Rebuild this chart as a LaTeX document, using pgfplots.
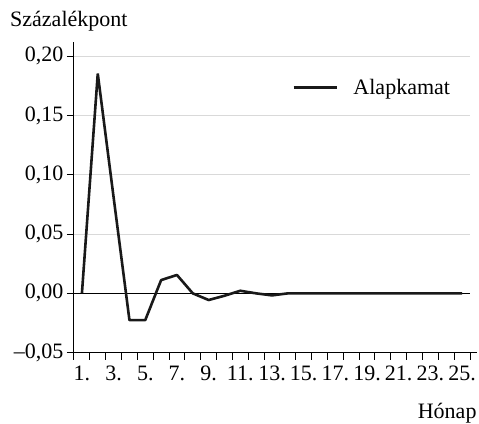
\documentclass[border=0pt]{standalone}
\usepackage{fontspec}
\setmainfont{Liberation Serif}
\usepackage{pgfplots}
\pgfplotsset{compat=1.18}
\definecolor{gridgray}{HTML}{D9D9D9}
\newcommand{\bigfont}{\fontsize{22bp}{26bp}\selectfont}
\begin{document}
\begin{tikzpicture}[font=\bigfont]
\path[use as bounding box] (-74bp,-71.3bp) rectangle (405bp,352.7bp);
\begin{axis}[
  at={(0,0)}, anchor=south west,
  scale only axis, width=396bp, height=311bp,
  xmin=0.5, xmax=25.5, ymin=-0.05, ymax=0.2121,
  axis lines=left,
  x axis line style={-, line width=1bp, shorten >=-7bp},
  y axis line style={-, line width=1bp},
  tick align=outside, major tick length=7bp,
  tick style={black, line width=1bp},
  xtick={0.5,1.5,...,25.5}, xticklabels={},
  extra x ticks={1,3,...,25},
  extra x tick labels={1.,3.,5.,7.,9.,11.,13.,15.,17.,19.,21.,23.,25.},
  extra x tick style={major tick length=0pt, tick label style={yshift=-10bp}},
  ytick={-0.05,0.05,0.10,0.15,0.20},
  yticklabels={{\textendash0,05},{0,05},{0,10},{0,15},{0,20}},
  extra y ticks={0},
  extra y tick labels={0{,}00},
  extra y tick style={grid style={black, line width=1bp}},
  ymajorgrids,
  grid style={gridgray, line width=1bp},
  tick label style={font=\bigfont},
  legend style={draw=none, fill=none, at={(0.5505,0.8534)}, anchor=west,
    inner sep=0pt, font=\bigfont},
  legend cell align=left,
  legend image code/.code={\draw[#1] (0bp,0bp) -- (43bp,0bp); \path[draw=none] (0bp,0bp) -- (58bp,0bp);},
]
\addplot[color=black!90, line width=2.6bp, line join=bevel] coordinates {
(1,0) (2,0.1852) (3,0.081) (4,-0.0225) (5,-0.0225) (6,0.0112) (7,0.0155)
(8,0.0) (9,-0.0056) (10,-0.002) (11,0.0022) (12,0.0) (13,-0.0017) (14,0)
(15,0) (16,0) (17,0) (18,0) (19,0) (20,0) (21,0) (22,0) (23,0) (24,0) (25,0)
};
\addlegendentry{Alapkamat}
\end{axis}
\node[anchor=base west, inner sep=0pt] at (-64bp,326bp) {Százalékpont};
\node[anchor=base east, inner sep=0pt] at (402.7bp,-65.3bp) {Hónap};
\end{tikzpicture}
\end{document}
